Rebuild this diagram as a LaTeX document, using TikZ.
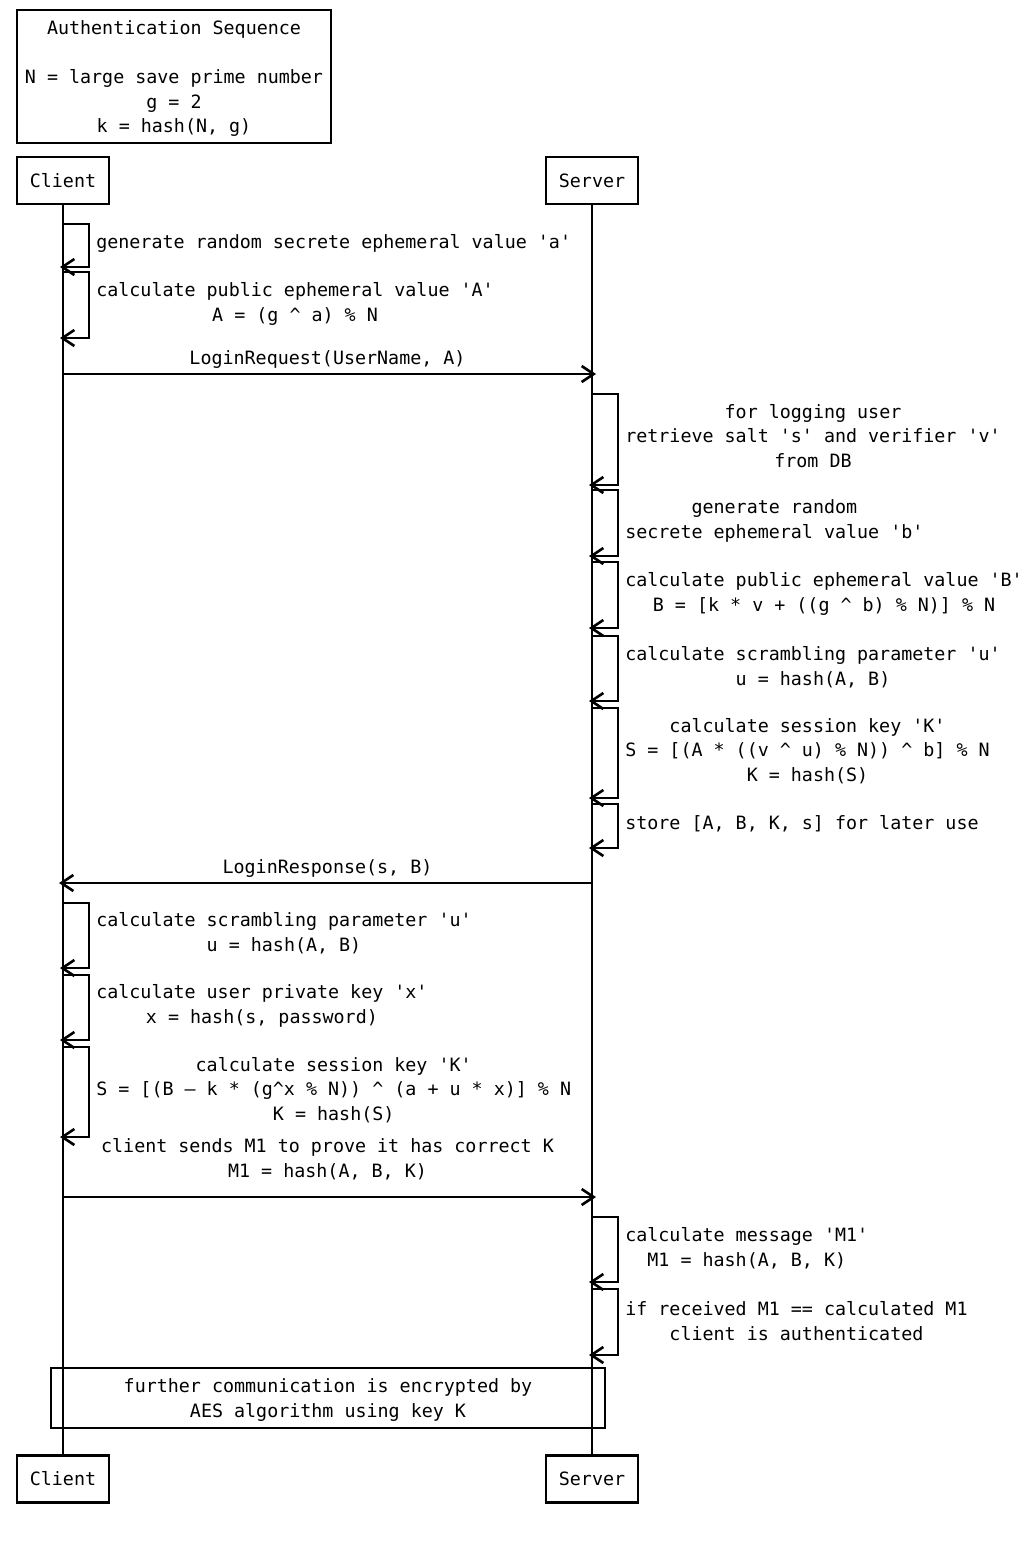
\documentclass[tikz,border=0pt]{standalone}
\usepackage{fontspec}
\setmonofont{DejaVu Sans Mono}
\usetikzlibrary{arrows.meta}
\newcommand\sqloop[4]{% #1 lifeline node, #2 loop right x, #3 top y, #4 bottom y
  \draw[msg, shorten >=-1.5pt] (#1.south |- 0,#3) -| (#2,#4) -- (#1.south |- 0,#4);}
\begin{document}
\begin{tikzpicture}[x=0.5pt,y=-0.5pt, line width=1.3pt,
  every node/.style={font=\ttfamily\fontsize{9.17pt}{12.35pt}\selectfont, inner sep=0pt},
  box/.style={draw, minimum width=46pt, minimum height=23.5pt},
  msg/.style={-{Straight Barb[length=6pt,width=8pt]}},
  lbl/.style={align=center, anchor=west},
  mlbl/.style={align=center}]
\useasboundingbox (0,0) rectangle (1034,1547);

% header
\node[draw, minimum width=157pt, minimum height=66.5pt] (title) at (174,76.5) {};
\node[align=center] (titletext) at (174,78.5)
  {Authentication Sequence\\[12.35pt]N = large save prime number\\g = 2\\k = hash(N, g)};

% participants
\node[box] (c) at (63,180.5) {Client};
\node[box] (s) at (592,180.5) {Server};
\node[box] (c2) at (63,1479) {Client};
\node[box] (s2) at (592,1479) {Server};
\draw (c) -- (c2);
\draw (s) -- (s2);

% client: initial steps
\sqloop{c}{89}{224}{267}
\node[lbl] (t1) at (95,243) {generate random secrete ephemeral value 'a'};
\sqloop{c}{89}{272}{338}
\node[lbl] (t2) at (95,304) {calculate public ephemeral value 'A'\\A = (g \textasciicircum{} a) \% N};

% login request
\draw[msg, shorten >=-2pt] (c.south |- 0,374) -- (s.south |- 0,374);
\node[mlbl] (m1) at (327.5,359) {LoginRequest(UserName, A)};

% server steps
\sqloop{s}{618}{394}{485}
\node[lbl] (t3) at (624,436) {for logging user\\retrieve salt 's' and verifier 'v'\\from DB};
\sqloop{s}{618}{490}{556}
\node[lbl] (t4) at (624,521) {generate random\\secrete ephemeral value 'b'};
\sqloop{s}{618}{562}{628}
\node[lbl] (t5) at (624,594) {calculate public ephemeral value 'B'\\B = [k * v + ((g \textasciicircum{} b) \% N)] \% N};
\sqloop{s}{618}{636}{701}
\node[lbl] (t6) at (624,667) {calculate scrambling parameter 'u'\\u = hash(A, B)};
\sqloop{s}{618}{708}{798}
\node[lbl] (t7) at (624,751) {calculate session key 'K'\\S = [(A * ((v \textasciicircum{} u) \% N)) \textasciicircum{} b] \% N\\K = hash(S)};
\sqloop{s}{618}{804}{848}
\node[lbl] (t8) at (624,824) {store [A, B, K, s] for later use};

% login response
\draw[msg, shorten >=-2pt] (s.south |- 0,883) -- (c.south |- 0,883);
\node[mlbl] (m2) at (327.5,868) {LoginResponse(s, B)};

% client steps
\sqloop{c}{89}{903}{968}
\node[lbl] (t9) at (95,933) {calculate scrambling parameter 'u'\\u = hash(A, B)};
\sqloop{c}{89}{975}{1040}
\node[lbl] (t10) at (95,1006) {calculate user private key 'x'\\x = hash(s, password)};
\sqloop{c}{89}{1047}{1137}
\node[lbl] (t11) at (95,1090) {calculate session key 'K'\\S = [(B – k * (g\textasciicircum{}x \% N)) \textasciicircum{} (a + u * x)] \% N\\K = hash(S)};

% M1 message
\draw[msg, shorten >=-2pt] (c.south |- 0,1197) -- (s.south |- 0,1197);
\node[mlbl] (m3) at (327.5,1159) {client sends M1 to prove it has correct K\\M1 = hash(A, B, K)};

% server verification
\sqloop{s}{618}{1217}{1282}
\node[lbl] (t12) at (624,1248) {calculate message 'M1'\\M1 = hash(A, B, K)};
\sqloop{s}{618}{1289}{1355}
\node[lbl] (t13) at (624,1321) {if received M1 == calculated M1\\client is authenticated};

% note
\node[draw, minimum width=277pt, minimum height=30pt] (note) at (328,1398) {};
\node[align=center] (notetext) at (328,1400)
  {further communication is encrypted by\\AES algorithm using key K};
\end{tikzpicture}
\end{document}
